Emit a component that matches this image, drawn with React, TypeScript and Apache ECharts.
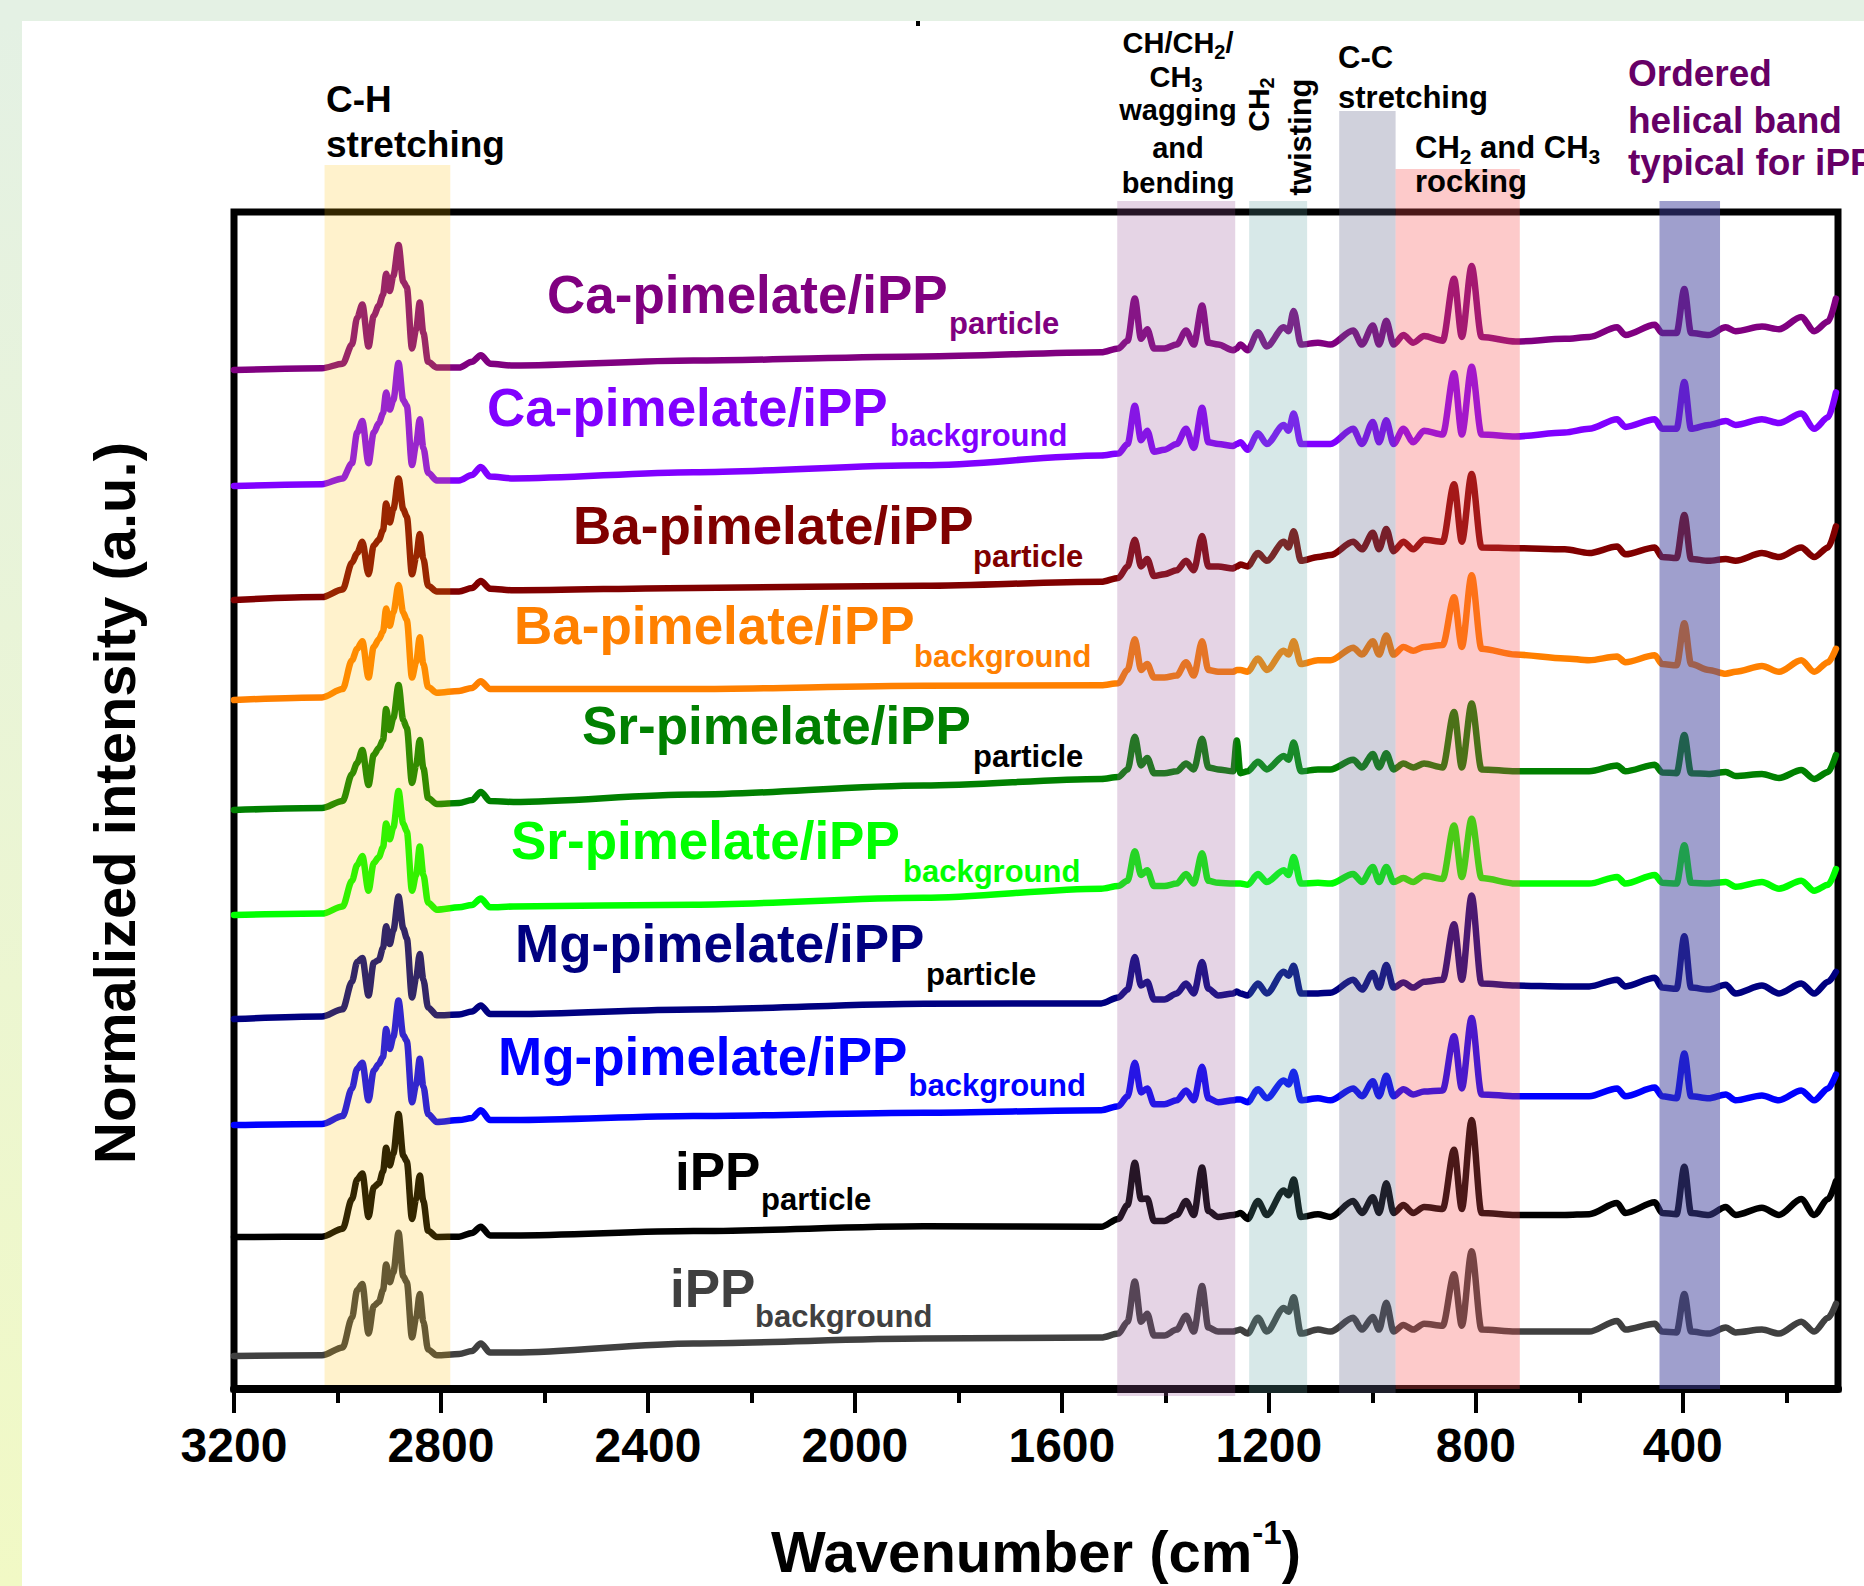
import React, { useEffect, useRef } from "react";
import * as echarts from "echarts";

// Raman shift grid (cm-1) shared by all spectra
const wavenumbers = [
  3200, 3030, 2990, 2972, 2962, 2952, 2940, 2930, 2920, 2912, 2906, 2899, 2892, 2882, 2873, 2866, 2856, 2848, 2841, 2834,
  2825, 2808, 2765, 2740, 2723, 2705, 2660, 2312, 1867,
  1524, 1491, 1473, 1459, 1447, 1435, 1422, 1402, 1378, 1360, 1345, 1329, 1317, 1298, 1269, 1262, 1255, 1241, 1221, 1204,
  1171, 1162, 1152, 1138, 1105, 1081, 1037, 1020, 999, 987, 973, 959, 940, 921, 900, 864, 842, 827, 808, 789,
  723, 628, 581, 527, 511, 454, 440, 412, 397, 384, 350, 317, 298, 247, 214, 171, 146, 119, 104,
];

// Normalized intensities (a.u.), relative to each spectrum's own stacking offset
const caParticle = [
  0, 1.7, 6.3, 25.4, 52.2, 65.6, 23.5, 54.1, 64.5, 75.2, 96.2, 79, 94.3, 124.9, 88.6, 82.8, 21.6, 40.7, 67.5, 36.9,
  8.2, 2.5, 2.5, 8.2, 14.7, 6.3, 4.4, 9.4, 13.5,
  17.8, 21.6, 29.3, 71.4, 31.2, 40.7, 21.6, 21.6, 25.4, 39.6, 25.4, 64.5, 27.3, 25.4, 19.7, 21.6, 25.4, 19.7, 37.7, 23.5,
  42.7, 38.8, 59.1, 25.4, 27.3, 25.4, 39.6, 25.4, 44.6, 25.4, 49.2, 25.4, 35, 27.3, 33.9, 29.3, 91.3, 33, 103.9, 33,
  28.5, 31.2, 33, 42.7, 35, 45.3, 37, 37, 81, 37, 35, 42.7, 38.8, 43.4, 40.7, 53, 38.8, 48.4, 71.4,
];
const caBackground = [
  0, 1.8, 7.5, 22.8, 53.4, 64.9, 22.8, 53.4, 63, 72.6, 93.6, 76.4, 86, 123.1, 86, 80.2, 20.9, 41.9, 66.8, 38.1,
  13.2, 5.6, 5.6, 11, 19, 9.4, 7.5, 13.8, 20.7,
  30.5, 32.4, 42, 80.2, 45.8, 55.3, 34.3, 36.2, 42, 57.2, 38.1, 78.3, 43.8, 42, 40, 42, 43.8, 36.2, 52.7, 42,
  61.1, 55.3, 72.6, 42, 42, 42, 57.2, 42, 64.1, 43.8, 65.7, 42, 57.2, 43.8, 55.3, 51.5, 112.7, 51.5, 119.2, 51.5,
  49.6, 53.4, 57.2, 66.8, 59.1, 66.8, 57.2, 57.2, 104, 57.2, 61.1, 64.9, 61.1, 66.8, 63, 72.6, 57.2, 68.7, 93.6,
];
const baParticle = [
  0, 2.9, 10.5, 37.3, 46.9, 58.3, 25.8, 54.5, 60.3, 69.8, 96.6, 77.5, 90.9, 121.5, 90.9, 83.2, 25.8, 43, 66, 41.1,
  14.3, 8.6, 8.6, 12, 18.9, 11.3, 9.7, 12.1, 14.2,
  18.2, 22, 33.5, 60.3, 33.5, 41.1, 23.9, 25.8, 29.7, 39.2, 29.7, 64.1, 33.5, 33.5, 31.6, 33.5, 35.4, 33.5, 46.9, 39.2,
  58.3, 52.6, 68.7, 39.2, 43, 44.9, 58.3, 50.7, 67.2, 50.7, 71, 48.8, 58.3, 50.7, 60.3, 58.3, 115.8, 58.3, 126.1, 52.6,
  51.8, 50.7, 46.9, 53.4, 45.7, 52.6, 43, 41.9, 85.1, 41.1, 39.2, 41.1, 39.2, 46.9, 43, 52.6, 43, 52.6, 73.7,
];
const baBackground = [
  0, 2.6, 11, 39.7, 51.2, 58.8, 22.5, 53.1, 60.8, 68.4, 91.4, 74.2, 87.5, 115.1, 87.5, 79.9, 22.5, 37.8, 62.7, 35.9,
  12.9, 7.2, 9.1, 12, 18.7, 11, 11, 10.9, 14.3,
  14.8, 16.8, 30.1, 60.8, 30.1, 35.9, 22.5, 22.5, 24.4, 37.8, 24.4, 58.8, 30.1, 28.2, 28.2, 30.1, 30.1, 28.2, 41.6, 30.1,
  49.3, 45.4, 58.8, 35.9, 39.7, 39.7, 52.3, 45.4, 58.8, 45.4, 64.6, 45.4, 53.1, 49.3, 53.1, 55, 102.8, 53.1, 124.7, 51.2,
  45.4, 41.6, 39.7, 43.5, 37.8, 44.7, 35.9, 34.7, 76.8, 35.9, 30.1, 26.3, 28.2, 34, 28.2, 39.7, 28.2, 37.8, 51.2,
];
const srParticle = [
  0, 2, 9, 36, 47, 60, 25, 55, 62, 70, 101, 80, 92, 125, 90, 82, 27, 45, 70, 42,
  12, 6, 7, 10, 18, 9, 8, 15.5, 24.5,
  31.1, 33, 40.6, 73.2, 44.5, 52.1, 36.8, 36.8, 38.7, 46.4, 40.6, 71.3, 42.6, 40.6, 38.7, 69.4, 36.8, 38.7, 48.3, 40.6,
  54, 50.2, 67.4, 38.7, 40.6, 40.6, 50.2, 42.6, 56, 42.6, 56.7, 40.6, 46.4, 42.6, 46.4, 42.6, 98, 42.6, 106.5, 40.6,
  38.7, 38.7, 38.7, 44.5, 38.7, 45.3, 37.6, 36.8, 75.1, 36.8, 36, 38, 34, 36, 32, 40, 31, 38, 55,
];
const srBackground = [
  0, 1.4, 8.5, 34.2, 50, 59.1, 24.3, 52, 57.9, 67.8, 91.5, 75.7, 87.6, 123.9, 91.5, 83.6, 24.3, 40.1, 68.6, 40.1,
  12.4, 5.3, 7.7, 10, 16.4, 7.7, 8.5, 10.3, 17.2,
  26.3, 29, 34.2, 63.8, 40.1, 44.8, 29, 29, 31.4, 40.9, 31.4, 61.8, 34.2, 32.2, 31.4, 31.4, 31.4, 30.2, 40.9, 33,
  44.8, 40.1, 57.9, 31.4, 32.2, 31.4, 40.9, 33, 48, 33, 48, 33, 36.9, 33, 39.3, 36.1, 89.5, 38.1, 96.2, 36.9,
  31.4, 31.4, 31.4, 38.1, 31.4, 40.1, 32.2, 31.4, 69.8, 32.2, 31.4, 33, 28.2, 33, 26.3, 34.2, 24.3, 30.2, 46,
];
const mgParticle = [
  0, 2.5, 9.7, 37.3, 57.1, 61.1, 23.5, 56.3, 59.1, 71, 92.7, 74.9, 88.7, 122.4, 90.7, 80.8, 21.5, 41.3, 65, 39.3,
  11.6, 3.7, 4.5, 7.5, 13.6, 4.9, 4.9, 9.6, 15.2,
  15.6, 21.5, 29.4, 61.9, 33.4, 37.3, 19.5, 19.5, 25.5, 35.4, 25.5, 57.1, 30.2, 23.5, 25.5, 27.5, 25.5, 23.5, 35.4, 25.5,
  47.2, 43.3, 53.2, 25.5, 25.5, 26.3, 39.3, 29.4, 46, 31.4, 54, 31.4, 36.5, 31.4, 37.3, 39.3, 94.7, 39.3, 123.5, 35.4,
  33.4, 32.6, 32.6, 39.3, 32.6, 41.3, 31.4, 30.2, 82.8, 31.4, 29.4, 34.2, 25.5, 33.4, 25.5, 35.4, 25.5, 37.3, 47.2,
];
const mgBackground = [
  0, 1, 8.9, 36.6, 56.3, 62.3, 24.7, 54.4, 61.1, 68.2, 95.9, 76.1, 88, 124.4, 90, 84, 22.7, 40.5, 66.2, 38.6,
  10.9, 3, 4.9, 7, 14.8, 4.9, 4.9, 8.9, 12.3,
  14.8, 18.8, 28.7, 62.3, 32.6, 36.6, 20.8, 20.8, 24.7, 34.6, 24.7, 58.3, 26.7, 22.7, 24.7, 25.5, 25.5, 22.7, 35.8, 26.7,
  44.5, 40.5, 53.2, 24.7, 26.7, 24.7, 36.6, 28.7, 43.7, 28.7, 49.2, 28.7, 35.8, 30.6, 33.4, 34.6, 88.8, 36.6, 107, 30.6,
  28.7, 28.7, 28.7, 36.6, 28.7, 37.4, 28.7, 26.7, 71.4, 28.7, 26.7, 30.6, 24.7, 29.5, 24.7, 34.6, 24.7, 36.6, 50.4,
];
const ippParticle = [
  0, 0.3, 8.2, 37.9, 57.6, 63.6, 20.1, 49.7, 53.7, 65.5, 89.3, 71.5, 83.3, 122.9, 81.4, 75.4, 18.1, 37.9, 61.6, 35.9,
  6.2, 0, 0.3, 4, 10.2, 1.5, 1.5, 5.9, 10.7,
  10.2, 18.1, 32, 74.2, 37.9, 38.6, 16.1, 16.1, 22, 35.9, 22, 69.5, 26, 20.1, 22, 22.8, 24, 18.1, 35.9, 22,
  46.6, 41.8, 57.6, 20.1, 22.8, 20.1, 35.9, 24, 39.8, 24, 53.7, 24, 31.9, 24, 30, 28, 87.3, 28, 117, 24,
  22, 22, 22.8, 33.9, 24, 34.7, 24, 22.8, 70.3, 24, 22, 30, 22, 29.2, 22, 37.9, 22, 37.9, 55.7,
];
const ippBackground = [
  0, 0.7, 8.6, 38.2, 65.9, 71.9, 22.4, 50.1, 54.1, 65.9, 91.6, 73.8, 83.7, 123.3, 79.8, 73.8, 18.5, 38.2, 62, 34.3,
  6.6, 0.7, 1.9, 5, 12.5, 3.5, 3.5, 12.6, 17.4,
  18.5, 22.4, 34.3, 74.6, 34.3, 42.2, 20.4, 20.4, 26.4, 40.2, 24.4, 69.9, 28.4, 24.4, 24.4, 25.6, 26.4, 22.4, 38.2, 24.4,
  48.1, 44.2, 58.8, 22.4, 26.4, 24.4, 38.2, 26.4, 39, 26.4, 53.3, 24.4, 31.1, 26.4, 32.3, 30.3, 81.7, 30.3, 104.7, 26.4,
  24.4, 24.4, 24.4, 35.1, 26.4, 32.3, 24.4, 23.6, 62, 24.4, 22.4, 28.4, 23.6, 26.4, 22.4, 34.3, 24.4, 38.2, 52.1,
];

const spectra = [caParticle, caBackground, baParticle, baBackground, srParticle, srBackground, mgParticle, mgBackground, ippParticle, ippBackground];
const seriesNames = [
  "Ca-pimelate/iPP particle", "Ca-pimelate/iPP background", "Ba-pimelate/iPP particle", "Ba-pimelate/iPP background",
  "Sr-pimelate/iPP particle", "Sr-pimelate/iPP background", "Mg-pimelate/iPP particle", "Mg-pimelate/iPP background",
  "iPP particle", "iPP background",
];
const stackOffsets = [1019, 903, 789, 689, 579, 474, 370, 264, 152, 33];
const lineColors = ["#800080", "#8000ff", "#800000", "#ff8000", "#008000", "#00ff00", "#000080", "#0000ff", "#000000", "#404040"];

const labelMain = ["Ca-pimelate/iPP", "Ca-pimelate/iPP", "Ba-pimelate/iPP", "Ba-pimelate/iPP", "Sr-pimelate/iPP", "Sr-pimelate/iPP", "Mg-pimelate/iPP", "Mg-pimelate/iPP", "iPP", "iPP"];
const labelSub = ["particle", "background", "particle", "background", "particle", "background", "particle", "background", "particle", "background"];
const subColors = ["#800080", "#8000ff", "#800000", "#ff8000", "#000000", "#00ff00", "#000000", "#0000ff", "#000000", "#404040"];
const mainX = [547, 487, 573, 514, 582, 511, 515, 498, 675, 670];
const mainBase = [313, 426, 544.5, 644.4, 744.2, 859.2, 962.5, 1074.8, 1189.8, 1306.9];
const subX = [949, 890, 973, 914, 973, 903, 926, 908.5, 761, 755];
const subBase = [334.4, 446.7, 567.2, 667, 767, 882, 985.3, 1096.8, 1210.5, 1327.5];

// Highlighted vibrational bands (cm-1)
const bandFrom = [3025, 1493, 1238, 1064, 955, 445];
const bandTo = [2782, 1265, 1126, 955, 715, 328];
const bandTop = [165, 201, 201, 111, 169, 201];
const bandBottom = [1385, 1396, 1393, 1393, 1389, 1389];
const bandColors = [
  "rgba(255,190,0,0.2)", "rgba(150,85,150,0.25)", "rgba(95,163,163,0.25)",
  "rgba(98,102,138,0.3)", "rgba(248,78,78,0.3)", "rgba(63,63,155,0.5)",
];

const majorTicks = [400, 800, 1200, 1600, 2000, 2400, 2800, 3200];
const minorTicks = [200, 600, 1000, 1400, 1800, 2200, 2600, 3000];

const FONT = '"Liberation Sans", Arial, Helvetica, sans-serif';

function txt(x: number, baseline: number, text: string, fs: number, color: string, align = "left", z = 60): any {
  return {
    type: "text", x, y: baseline - 0.35 * fs, z,
    style: { text, fill: color, fontSize: fs, fontWeight: "bold", fontFamily: FONT, align, verticalAlign: "middle" },
  };
}

function richStyles(fs: number, color = "#000"): any {
  return {
    b: { fontSize: fs, fontWeight: "bold", fontFamily: FONT, fill: color, color, lineHeight: fs + 8 },
    s: { fontSize: Math.round(fs * 0.68), fontWeight: "bold", fontFamily: FONT, fill: color, color, lineHeight: Math.round(fs * 0.7), verticalAlign: "bottom" },
  };
}

function rich(x: number, baseline: number, text: string, fs: number, align = "left", rotation = 0, color = "#000"): any {
  return {
    type: "text", x, y: rotation ? baseline : baseline - 0.35 * fs, z: 60, rotation,
    style: { text, rich: richStyles(fs, color), align, verticalAlign: "middle", fontSize: fs, fontFamily: FONT, fontWeight: "bold", fill: color },
  };
}

export default function App() {
  const ref = useRef<HTMLDivElement>(null);
  useEffect(() => {
    const chart = echarts.init(ref.current as HTMLDivElement, null, { renderer: "svg" });
    const series = spectra.map((vals, i) => ({
      name: seriesNames[i],
      type: "line",
      data: wavenumbers.map((w, j) => [w, stackOffsets[i] + vals[j]]),
      showSymbol: false,
      symbol: "none",
      silent: true,
      smooth: 0.3,
      smoothMonotone: "x",
      lineStyle: { color: lineColors[i], width: 6.5, join: "round", cap: "round" },
      itemStyle: { color: lineColors[i] },
    }));
    chart.setOption({
      animation: false,
      backgroundColor: "#ffffff",
      grid: { left: 234, right: 26, top: 212, bottom: 197, show: true, borderColor: "#000", borderWidth: 7 },
      xAxis: [
        {
          type: "value", min: 100, max: 3200, inverse: true, position: "bottom",
          axisLine: { show: true, lineStyle: { color: "#000", width: 8 } },
          axisTick: { show: true, customValues: majorTicks, length: 24, lineStyle: { color: "#000", width: 4 } },
          axisLabel: {
            show: true, customValues: majorTicks, fontSize: 48, fontWeight: "bold", fontFamily: FONT, color: "#000", margin: 32,
            formatter: (v: number) => String(v),
          },
          splitLine: { show: false },
        },
        {
          type: "value", min: 100, max: 3200, inverse: true, position: "bottom",
          axisLine: { show: false },
          axisTick: { show: true, customValues: minorTicks, length: 14, lineStyle: { color: "#000", width: 4 } },
          axisLabel: { show: false },
          splitLine: { show: false },
        },
      ],
      yAxis: { type: "value", min: 0, max: 1177, show: false, splitLine: { show: false } },
      series,
    });

    const px = (w: number) => chart.convertToPixel({ xAxisIndex: 0 }, w) as number;
    const graphic: any[] = [];
    // outer frame strips
    graphic.push({ type: "rect", z: 100, shape: { x: 0, y: 0, width: 1864, height: 21 }, style: { fill: "#e4f1e4" } });
    graphic.push({
      type: "rect", z: 100, shape: { x: 0, y: 21, width: 22, height: 1565 },
      style: { fill: new echarts.graphic.LinearGradient(0, 0, 0, 1, [{ offset: 0, color: "#e4f1e4" }, { offset: 1, color: "#f1f9c5" }]) },
    });
    graphic.push({ type: "rect", z: 101, shape: { x: 916, y: 21, width: 4, height: 5 }, style: { fill: "#000" } });
    // bands
    bandFrom.forEach((f, i) => {
      const x1 = px(f);
      const x2 = px(bandTo[i]);
      graphic.push({
        type: "rect", z: 50,
        shape: { x: Math.min(x1, x2), y: bandTop[i], width: Math.abs(x2 - x1), height: bandBottom[i] - bandTop[i] },
        style: { fill: bandColors[i] },
      });
    });
    // spectrum labels
    labelMain.forEach((m, i) => {
      graphic.push(txt(mainX[i], mainBase[i], m, 53, lineColors[i]));
      graphic.push(txt(subX[i], subBase[i], labelSub[i], 31, subColors[i]));
    });
    // band labels
    graphic.push(txt(326, 112.3, "C-H", 37, "#000"));
    graphic.push(txt(326, 157, "stretching", 37, "#000"));
    graphic.push(rich(1178, 53.3, "{b|CH/CH}{s|2}{b|/}", 29, "center"));
    graphic.push(rich(1176, 86.7, "{b|CH}{s|3}", 29, "center"));
    graphic.push(txt(1178, 120, "wagging", 29, "#000", "center"));
    graphic.push(txt(1178, 158.3, "and", 29, "#000", "center"));
    graphic.push(txt(1178, 192.7, "bending", 29, "#000", "center"));
    graphic.push(rich(1258, 104.5, "{b|CH}{s|2}", 30, "center", Math.PI / 2));
    graphic.push({
      type: "text", x: 1300, y: 137, z: 60, rotation: Math.PI / 2,
      style: { text: "twisting", fill: "#000", fontSize: 31, fontWeight: "bold", fontFamily: FONT, align: "center", verticalAlign: "middle" },
    });
    graphic.push(txt(1338, 68, "C-C", 31, "#000"));
    graphic.push(txt(1338, 108, "stretching", 31, "#000"));
    graphic.push(rich(1415, 158, "{b|CH}{s|2}{b| and CH}{s|3}", 31, "left"));
    graphic.push(txt(1415, 192.7, "rocking", 31, "#000"));
    graphic.push(txt(1628, 86.7, "Ordered", 37, "#660066"));
    graphic.push(txt(1628, 133.3, "helical band", 37, "#660066"));
    graphic.push(txt(1628, 175.5, "typical for iPP", 37, "#660066"));
    // axis titles
    graphic.push({
      type: "text", x: 114, y: 803, z: 60, rotation: Math.PI / 2,
      style: { text: "Normalized intensity (a.u.)", fill: "#000", fontSize: 58, fontWeight: "bold", fontFamily: FONT, align: "center", verticalAlign: "middle" },
    });
    graphic.push({
      type: "text", x: 1036, y: 1551, z: 60,
      style: {
        text: "{a|Wavenumber (cm}{p|-1}{a|)}",
        align: "center", verticalAlign: "middle", fontSize: 58, fontWeight: "bold", fontFamily: FONT, fill: "#000",
        rich: {
          a: { fontSize: 58, fontWeight: "bold", fontFamily: FONT, fill: "#000", color: "#000", lineHeight: 70 },
          p: { fontSize: 33, fontWeight: "bold", fontFamily: FONT, fill: "#000", color: "#000", lineHeight: 18, verticalAlign: "top" },
        },
      },
    });
    chart.setOption({ graphic });
    return () => chart.dispose();
  }, []);
  return <div ref={ref} style={{ position: "absolute", left: 0, top: 0, width: 1864, height: 1586 }} />;
}
